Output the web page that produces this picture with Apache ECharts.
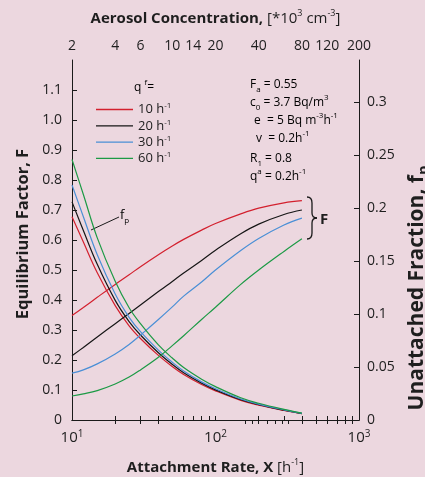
<!DOCTYPE html>
<html>
<head>
<meta charset="utf-8">
<script src="https://cdn.jsdelivr.net/npm/echarts@6/dist/echarts.min.js"></script>
<style>
  html, body { margin: 0; padding: 0; background: #ecd7df; }
  #chart { width: 425px; height: 477px; }
</style>
</head>
<body>
<div id="chart"></div>
<script>
// Attachment rate X [h^-1] at which the curves are sampled
const attachRate = [10, 12, 15, 20, 25, 30, 40, 50, 60, 80, 100, 150, 200, 300, 400];

// Ventilation rates q^f [h^-1] (legend entries)
const qfLabels = ['10', '20', '30', '60'];

// Equilibrium factor F for each ventilation rate
const eqF10 = [0.348, 0.375, 0.409, 0.452, 0.484, 0.511, 0.551, 0.580, 0.602, 0.633, 0.655, 0.687, 0.706, 0.724, 0.731];
const eqF20 = [0.214, 0.242, 0.277, 0.321, 0.355, 0.383, 0.428, 0.462, 0.490, 0.532, 0.566, 0.621, 0.653, 0.685, 0.700];
const eqF30 = [0.156, 0.167, 0.187, 0.220, 0.252, 0.283, 0.335, 0.377, 0.413, 0.460, 0.500, 0.565, 0.605, 0.650, 0.673];
const eqF60 = [0.080, 0.087, 0.098, 0.120, 0.143, 0.167, 0.209, 0.248, 0.281, 0.335, 0.376, 0.452, 0.500, 0.562, 0.604];

// Unattached fraction f_p for each ventilation rate
const fp10 = [0.192, 0.168, 0.139, 0.108, 0.089, 0.077, 0.061, 0.0505, 0.043, 0.0335, 0.0275, 0.0185, 0.0140, 0.0090, 0.0060];
const fp20 = [0.206, 0.179, 0.147, 0.113, 0.093, 0.0803, 0.0635, 0.0525, 0.0447, 0.0348, 0.0285, 0.0192, 0.0145, 0.0093, 0.0061];
const fp30 = [0.222, 0.192, 0.156, 0.119, 0.097, 0.0835, 0.066, 0.0545, 0.0463, 0.036, 0.0295, 0.0198, 0.0150, 0.0096, 0.0063];
const fp60 = [0.246, 0.213, 0.172, 0.131, 0.106, 0.091, 0.071, 0.0585, 0.0495, 0.0385, 0.0315, 0.0210, 0.0158, 0.0100, 0.0065];

// Axis tick values
const bottomLabelValues = [10, 100, 1000];
const bottomTickValues = [10, 20, 30, 40, 50, 60, 70, 80, 90, 100, 200, 300, 400, 500, 600, 700, 800, 900, 1000];
const topLabelValues = [2, 4, 6, 10, 14, 20, 40, 80, 120, 200];
const topTickValues = [4, 6, 8, 32, 36, 40, 46, 52, 58, 64, 80, 100, 120, 140, 160, 180];

const eqSets = [eqF10, eqF20, eqF30, eqF60];
const fpSets = [fp10, fp20, fp30, fp60];
const colors = ['#d3202e', '#161616', '#4a8fd6', '#1c9a45'];

const FONT = '"Open Sans", "DejaVu Sans", sans-serif';
const TXT = '#1e1e1e';

function richSet(size) {
  const lh = Math.round(size * 1.3);
  return {
    b: { fontFamily: FONT, fontWeight: 'bold', fontSize: size, color: TXT, lineHeight: lh },
    r: { fontFamily: FONT, fontSize: size, color: TXT, lineHeight: lh },
    sup: { fontFamily: FONT, fontSize: Math.round(size * 0.62), color: TXT, lineHeight: lh, verticalAlign: 'top' },
    bsub: { fontFamily: FONT, fontWeight: 'bold', fontSize: Math.round(size * 0.7), color: TXT, lineHeight: lh, verticalAlign: 'bottom' }
  };
}

const series = [];
qfLabels.forEach((q, i) => {
  series.push({
    name: q, type: 'line', xAxisIndex: 0, yAxisIndex: 0, smooth: 0.4, symbol: 'none',
    lineStyle: { color: colors[i], width: 1.2 }, itemStyle: { color: colors[i] },
    data: attachRate.map((x, j) => [x, eqSets[i][j]])
  });
  series.push({
    name: q, type: 'line', xAxisIndex: 0, yAxisIndex: 1, smooth: 0.4, symbol: 'none',
    lineStyle: { color: colors[i], width: 1.2 }, itemStyle: { color: colors[i] },
    data: attachRate.map((x, j) => [x, fpSets[i][j]])
  });
});

const axisLine = { show: true, lineStyle: { color: '#1a1a1a', width: 1 } };
const tickLabel = { fontFamily: FONT, fontSize: 14, color: TXT };

const chart = echarts.init(document.getElementById('chart'), null, { renderer: 'canvas' });
chart.setOption({
  backgroundColor: '#ecd7df',
  animation: false,
  grid: { left: 72, right: 66, top: 60, bottom: 57, containLabel: false, outerBoundsMode: 'none' },
  legend: {
    orient: 'vertical', left: 91, top: 97, icon: 'rect', itemWidth: 37, itemHeight: 1.3, itemGap: 2.3,
    data: qfLabels,
    formatter: name => '{r|' + name + ' h}{sup|-1}',
    textStyle: { rich: {
      r: { fontFamily: FONT, fontSize: 13, color: TXT, lineHeight: 15 },
      sup: { fontFamily: FONT, fontSize: 8, color: TXT, lineHeight: 15, verticalAlign: 'top' }
    } }
  },
  xAxis: [
    {
      type: 'log', logBase: 10, min: 10, max: 1000, position: 'bottom',
      axisLine,
      axisTick: { show: true, inside: true, length: 4, customValues: bottomTickValues, lineStyle: { color: '#1a1a1a' } },
      minorTick: { show: false },
      axisLabel: Object.assign({}, tickLabel, {
        margin: 9, customValues: bottomLabelValues,
        formatter: v => '{r|10}{sup|' + Math.round(Math.log10(v)) + '}',
        rich: {
          r: { fontFamily: FONT, fontSize: 15, color: TXT, lineHeight: 17 },
          sup: { fontFamily: FONT, fontSize: 10, color: TXT, lineHeight: 17, verticalAlign: 'top' }
        }
      }),
      splitLine: { show: false },
      name: '{b|Attachment Rate, X }{r|[h}{sup|-1}{r|]}',
      nameLocation: 'middle', nameGap: 38,
      nameTextStyle: { rich: richSet(15) }
    },
    {
      type: 'log', logBase: 10, min: 2, max: 200, position: 'top',
      axisLine,
      axisTick: { show: true, inside: true, length: 4, customValues: topTickValues, lineStyle: { color: '#1a1a1a' } },
      axisLabel: Object.assign({}, tickLabel, { margin: 7, customValues: topLabelValues, formatter: v => String(v) }),
      splitLine: { show: false },
      name: '{b|Aerosol Concentration, }{r|[*10}{sup|3}{r| cm}{sup|-3}{r|]}',
      nameLocation: 'middle', nameGap: 31,
      nameTextStyle: { rich: richSet(15) }
    }
  ],
  yAxis: [
    {
      type: 'value', min: 0, max: 1.2, interval: 0.1, position: 'left',
      axisLine,
      axisTick: { show: true, inside: true, length: 5, lineStyle: { color: '#1a1a1a' } },
      axisLabel: Object.assign({}, tickLabel, {
        margin: 10, showMaxLabel: false,
        formatter: v => (v === 0 ? '0' : v.toFixed(1))
      }),
      splitLine: { show: false },
      name: 'Equilibrium Factor, F', nameLocation: 'middle', nameRotate: 90, nameGap: 26,
      nameTextStyle: { fontFamily: FONT, fontWeight: 'bold', fontSize: 16.5, color: TXT, padding: [0, 0, 0, 12] }
    },
    {
      type: 'value', min: 0, max: 0.34, interval: 0.05, position: 'right',
      axisLine,
      axisTick: { show: true, inside: true, length: 5, lineStyle: { color: '#1a1a1a' } },
      axisLabel: Object.assign({}, tickLabel, {
        margin: 8, showMaxLabel: false,
        formatter: v => String(+v.toFixed(2))
      }),
      splitLine: { show: false },
      name: '{b|Unattached Fraction, f}{bsub|p}', nameLocation: 'middle', nameRotate: 90, nameGap: 45,
      nameTextStyle: { rich: richSet(21), padding: [0, 96, 0, 0] }
    }
  ],
  series
});

// Annotations: parameter block, legend header, f_p pointer and the F brace
const annoRich = {
  r: { fontFamily: FONT, fontSize: 12, color: TXT, lineHeight: 18 },
  sup: { fontFamily: FONT, fontSize: 8, color: TXT, lineHeight: 18, verticalAlign: 'top' },
  sub: { fontFamily: FONT, fontSize: 8, color: TXT, lineHeight: 18, verticalAlign: 'bottom' }
};
const params = [
  { x: 250, y: 85, t: '{r|F}{sub|a}{r| = 0.55}' },
  { x: 250, y: 103, t: '{r|c}{sub|0}{r| = 3.7 Bq/m}{sup|3}' },
  { x: 254, y: 121, t: '{r|e  = 5 Bq m}{sup|-3}{r|h}{sup|-1}' },
  { x: 256, y: 139, t: '{r|v  = 0.2h}{sup|-1}' },
  { x: 250, y: 159, t: '{r|R}{sub|1}{r| = 0.8}' },
  { x: 250, y: 177, t: '{r|q}{sup|a}{r| = 0.2h}{sup|-1}' }
];
const graphics = params.map(p => ({
  type: 'text', x: p.x, y: p.y - 9,
  style: { text: p.t, rich: annoRich }
}));
graphics.push({
  type: 'text', x: 134, y: 79,
  style: { text: '{r|q }{sup|f}{r|=}', rich: annoRich }
});
graphics.push({
  type: 'text', x: 120, y: 205,
  style: { text: '{f|f}{sub|p}', rich: {
    f: { fontFamily: FONT, fontSize: 13, color: TXT, lineHeight: 20 },
    sub: { fontFamily: FONT, fontSize: 8, color: TXT, lineHeight: 20, verticalAlign: 'bottom' }
  } }
});
graphics.push({
  type: 'line', shape: { x1: 91, y1: 230, x2: 119, y2: 217 },
  style: { stroke: '#1a1a1a', lineWidth: 1 }
});
// curly brace grouping the F curves
const bx = 307, bt = 197, bb = 239, bm = (bt + bb) / 2;
const braceStyle = { stroke: '#1a1a1a', lineWidth: 1.3, fill: null };
[
  { x1: bx, y1: bt, cpx1: bx + 5, cpy1: bt, x2: bx + 5, y2: bt + 6 },
  { x1: bx + 5, y1: bm - 5, cpx1: bx + 5, cpy1: bm, x2: bx + 10, y2: bm },
  { x1: bx + 10, y1: bm, cpx1: bx + 5, cpy1: bm, x2: bx + 5, y2: bm + 5 },
  { x1: bx + 5, y1: bb - 6, cpx1: bx + 5, cpy1: bb, x2: bx, y2: bb }
].forEach(s => graphics.push({ type: 'bezierCurve', shape: s, style: braceStyle }));
graphics.push({ type: 'line', shape: { x1: bx + 5, y1: bt + 6, x2: bx + 5, y2: bm - 5 }, style: braceStyle });
graphics.push({ type: 'line', shape: { x1: bx + 5, y1: bm + 5, x2: bx + 5, y2: bb - 6 }, style: braceStyle });
graphics.push({
  type: 'text', x: 320, y: 212,
  style: { text: 'F', fontFamily: FONT, fontWeight: 'bold', fontSize: 15, fill: TXT }
});
chart.setOption({ graphic: graphics });
</script>
</body>
</html>
